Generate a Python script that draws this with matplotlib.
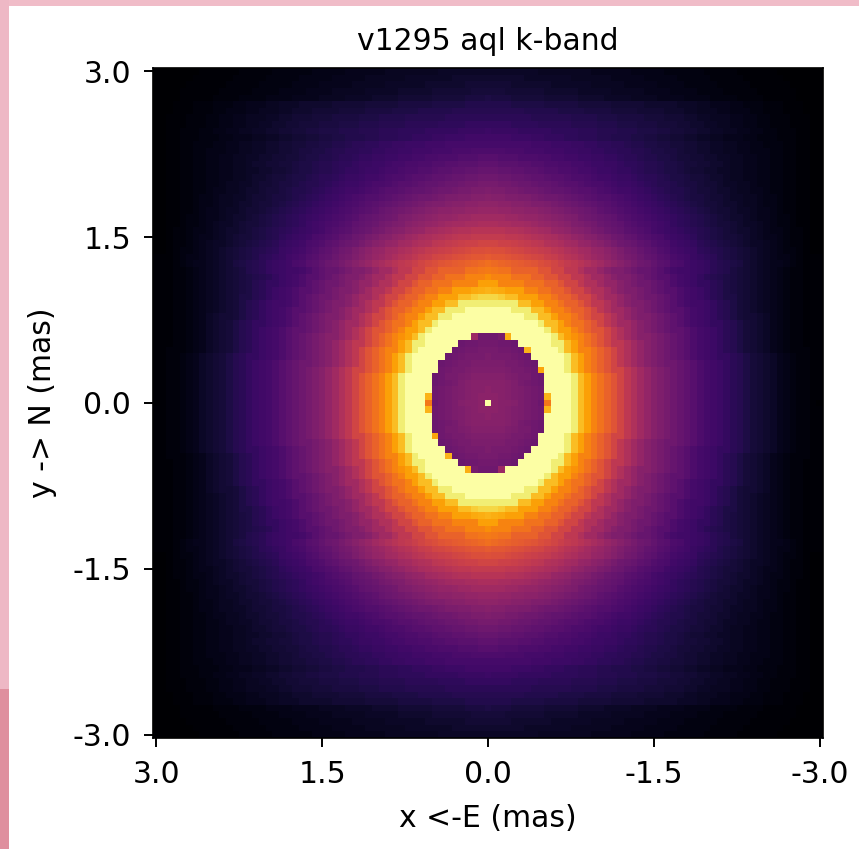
#!/usr/bin/env python

import matplotlib
matplotlib.use("Agg")
import matplotlib.pyplot as plt
from matplotlib.patches import Rectangle
import numpy as np

# upper left quarter of the map in percent of the colour range, read by eye
# rows go from the top edge to the centre row, columns from the left edge to the centre column
quarter = [
    [0,0,0,0,0,0,0,1,1,1,1,1,1,2,2,2,2,2,3,3,3,3,3,3,4,4,4,4,4,5,5,5,5,5,5,6,6,6,6,6,6,6,6,7,7,7,7,7,7,7,7],
    [0,0,0,0,0,0,1,1,1,1,1,1,2,2,2,2,2,3,3,3,3,3,4,4,4,4,4,5,5,5,5,5,6,6,6,6,6,6,7,7,7,7,7,7,7,8,8,8,8,8,8],
    [0,0,0,0,0,1,1,1,1,1,1,2,2,2,2,2,3,3,3,3,3,4,4,4,4,5,5,5,5,5,6,6,6,6,6,7,7,7,7,7,7,8,8,8,8,8,8,9,9,9,9],
    [0,0,0,0,1,1,1,1,1,1,2,2,2,2,2,3,3,3,3,4,4,4,4,5,5,5,5,6,6,6,6,6,7,7,7,7,7,8,8,8,8,8,9,9,9,9,9,9,10,10,10],
    [0,0,0,0,1,1,1,1,1,2,2,2,2,3,3,3,3,4,4,4,4,5,5,5,5,6,6,6,6,7,7,7,7,8,8,8,8,9,9,9,9,9,10,10,10,10,10,11,11,11,12],
    [0,0,0,1,1,1,2,2,2,3,3,3,4,4,5,5,5,6,6,7,7,7,8,8,8,8,8,9,9,9,9,9,10,10,10,10,10,11,11,11,11,11,12,12,12,12,12,13,13,13,13],
    [0,0,0,1,1,1,2,2,2,3,3,4,4,4,5,5,6,6,6,7,7,8,8,8,9,9,9,9,10,10,10,10,11,11,11,11,12,12,12,12,13,13,13,13,13,14,14,14,14,14,14],
    [0,0,1,1,1,2,2,2,3,3,4,4,5,5,6,6,6,7,7,8,8,9,9,9,10,10,10,11,11,11,11,12,12,12,13,13,13,13,14,14,14,14,14,14,15,15,15,15,15,15,15],
    [0,0,1,1,1,2,2,2,3,3,4,4,5,5,6,6,7,7,8,8,9,9,10,10,10,11,11,11,12,12,12,13,13,13,14,14,14,14,15,15,15,15,15,16,16,16,16,17,17,17,17],
    [0,0,1,1,2,2,2,3,3,4,4,5,5,6,6,7,7,8,8,9,9,10,10,11,11,12,12,12,13,13,13,14,14,14,15,15,15,16,16,16,16,17,17,17,17,17,18,18,18,18,19],
    [0,0,1,1,2,2,2,3,3,3,4,4,5,5,5,6,6,7,7,8,8,9,9,10,10,11,11,12,12,13,13,13,14,14,15,15,15,16,16,17,17,17,18,18,19,19,19,20,20,20,20],
    [0,0,1,1,2,2,3,3,3,4,4,5,5,6,6,7,7,8,8,9,9,10,10,11,11,12,12,13,13,14,15,15,16,16,17,17,18,18,19,19,19,20,20,20,21,21,21,21,21,21,21],
    [0,0,1,1,2,2,3,3,4,4,4,5,5,6,6,7,7,8,8,9,9,10,11,11,12,12,13,14,14,15,15,16,16,17,17,18,18,19,19,20,20,20,21,21,21,22,22,22,23,23,23],
    [0,0,1,1,2,2,3,3,4,4,5,5,6,6,7,7,8,8,9,9,10,10,11,12,12,13,13,14,15,15,16,17,17,18,18,19,19,20,20,21,21,22,22,23,23,23,24,24,24,25,25],
    [0,0,1,1,2,2,3,3,4,4,5,5,6,6,7,8,8,9,9,10,10,11,12,12,13,14,14,15,16,16,17,18,18,19,19,20,21,21,22,22,23,23,24,24,25,25,26,26,26,27,27],
    [0,0,1,1,2,2,3,3,4,4,5,5,6,6,7,7,8,8,9,9,10,11,12,12,13,14,14,15,16,17,17,18,19,19,20,21,21,22,23,23,24,24,25,26,26,27,27,28,28,29,29],
    [0,0,1,1,2,2,3,3,4,4,5,5,6,6,7,8,8,9,10,10,11,12,12,13,14,15,15,16,17,18,18,19,20,20,21,22,23,23,24,25,25,26,27,27,28,29,29,30,30,31,31],
    [0,0,1,1,2,2,3,3,4,4,5,6,6,7,7,8,9,9,10,11,11,12,13,14,14,15,16,17,18,19,19,20,21,22,22,23,24,25,25,26,27,28,28,29,30,30,31,32,32,33,33],
    [0,0,1,1,2,2,3,3,4,5,5,6,6,7,8,8,9,10,10,11,12,13,13,14,15,16,17,18,19,20,20,21,22,23,24,25,25,26,27,28,28,29,30,31,31,32,33,33,34,34,35],
    [0,0,1,1,2,2,3,4,4,5,6,6,7,7,8,9,9,10,11,11,12,13,14,15,16,17,18,19,20,21,22,23,24,24,25,26,27,28,29,30,31,31,32,33,34,34,35,35,36,36,37],
    [0,0,1,1,2,2,3,4,4,5,6,6,7,8,8,9,10,10,11,12,13,14,15,16,17,18,19,20,21,22,23,24,25,26,27,28,29,30,31,32,33,34,35,35,36,37,37,38,38,39,39],
    [0,0,1,1,2,2,3,4,5,5,6,7,7,8,9,9,10,11,12,13,14,15,16,17,18,19,20,21,22,23,24,25,26,27,29,30,31,32,33,34,35,36,37,38,38,39,39,40,40,41,41],
    [0,0,1,1,2,3,3,4,5,5,6,7,8,8,9,10,11,12,13,14,15,16,17,18,19,20,21,22,23,24,25,27,28,29,30,31,32,34,35,36,37,38,39,40,40,41,42,42,43,43,43],
    [0,0,1,1,2,3,3,4,5,6,7,7,8,9,10,10,11,12,13,14,15,16,17,19,20,21,22,23,24,25,27,28,29,30,32,33,34,35,37,38,39,40,41,42,43,44,44,45,45,46,46],
    [0,0,1,2,2,3,4,4,5,6,7,8,8,9,10,11,12,13,14,15,16,17,18,19,20,21,23,24,25,26,28,29,30,32,33,35,36,37,39,40,41,43,44,45,46,47,48,48,49,49,49],
    [0,0,1,2,2,3,4,5,5,6,7,8,9,10,10,11,12,13,14,16,17,18,19,20,22,23,24,25,27,28,30,31,33,34,36,37,39,40,42,43,45,46,47,48,49,50,51,51,52,52,52],
    [0,0,1,2,2,3,4,5,6,7,7,8,9,10,11,12,13,14,15,17,18,19,20,22,23,24,26,27,29,30,31,33,35,37,38,40,41,43,44,46,47,48,50,51,52,53,54,55,55,56,56],
    [0,0,1,2,3,3,4,5,6,7,8,9,10,11,12,13,14,15,16,18,19,20,21,23,24,26,27,29,31,32,34,36,38,40,41,43,44,46,47,49,50,52,53,54,55,56,57,58,59,59,60],
    [1,1,1,2,3,4,4,5,6,7,8,9,10,11,12,13,15,16,17,18,20,21,22,24,25,27,28,30,32,33,35,37,39,41,42,44,46,48,49,51,53,54,56,57,58,59,60,61,62,62,63],
    [1,1,1,2,3,4,5,5,6,7,8,9,11,12,13,14,15,17,18,19,20,22,23,25,26,28,30,31,33,35,37,39,41,43,45,47,49,51,52,54,56,58,59,61,62,63,64,65,66,67,68],
    [1,1,1,2,2,3,4,5,6,7,8,9,10,11,13,14,15,17,18,19,20,20,21,23,25,27,29,29,31,33,35,35,37,40,43,43,47,51,51,56,56,61,61,65,65,65,65,69,69,70,71],
    [1,1,1,2,2,3,4,5,6,7,8,9,10,11,12,13,14,15,17,19,20,21,23,25,25,27,29,31,33,35,35,37,40,43,43,47,51,51,56,56,61,61,65,65,69,69,69,73,73,73,75],
    [1,1,1,2,2,3,4,5,6,7,8,9,10,11,12,14,15,17,17,19,20,21,23,25,27,29,31,31,33,35,37,40,40,43,47,47,51,56,56,61,65,65,69,69,69,73,73,73,73,79,79],
    [1,1,1,2,2,3,4,5,6,7,8,9,10,11,12,14,15,17,19,20,21,23,25,25,27,29,31,33,35,35,37,40,43,47,47,51,56,56,61,65,65,69,69,73,73,79,79,79,81,82,83],
    [1,1,1,2,2,3,4,5,6,7,8,9,10,12,12,14,15,17,19,20,21,23,25,27,29,31,31,33,35,37,40,43,43,47,51,56,56,61,65,65,69,73,73,79,79,79,85,85,88,90,90],
    [1,1,1,2,2,3,4,5,6,7,8,9,10,12,14,15,17,19,20,20,21,23,25,27,29,31,33,35,35,37,40,43,47,51,51,56,61,65,65,69,73,73,79,79,85,85,95,95,95,95,95],
    [1,1,1,2,2,3,4,5,6,7,8,9,10,12,14,15,17,19,20,21,23,25,25,27,29,31,33,35,37,40,43,43,47,51,56,61,65,65,69,73,73,79,85,85,95,95,95,100,100,100,100],
    [1,1,1,2,2,3,4,5,7,8,9,9,10,12,14,15,17,19,20,21,23,25,27,29,31,33,35,35,37,40,43,47,51,56,56,61,65,69,73,73,79,85,85,95,95,100,100,100,100,100,100],
    [1,1,1,2,2,3,4,5,7,8,9,10,12,14,15,17,17,19,20,21,23,25,27,29,31,33,35,37,40,43,43,47,51,56,61,65,69,69,73,79,85,85,95,100,100,100,100,100,100,100,100],
    [1,1,1,2,2,3,4,5,7,8,9,10,12,14,15,17,19,20,21,23,25,27,27,29,31,33,35,37,40,43,47,51,56,61,61,65,69,73,79,79,85,95,100,100,100,100,100,100,100,100,100],
    [1,1,1,2,2,3,4,5,7,8,9,10,12,14,15,17,19,20,21,23,25,27,29,31,33,35,37,37,40,43,47,51,56,61,65,69,73,76,79,85,95,100,100,100,100,100,100,100,40,31,31],
    [1,1,1,2,2,3,4,5,7,8,9,10,12,14,15,17,19,20,21,23,25,27,29,31,33,35,37,40,43,47,51,51,56,61,65,69,73,79,85,95,95,100,100,100,100,100,30,31,31,32,32],
    [1,1,2,2,2,3,4,5,7,8,9,10,12,14,15,17,19,20,21,23,25,27,29,31,33,35,37,40,43,47,51,56,61,65,69,73,73,79,85,95,100,100,100,100,100,30,31,32,32,33,33],
    [1,1,2,2,3,4,5,7,8,9,10,12,14,15,17,17,19,20,21,23,25,27,29,31,33,35,37,40,43,47,51,56,61,65,69,73,79,85,95,100,100,100,100,100,30,31,32,33,33,33,34],
    [1,1,2,2,3,4,5,7,8,9,10,12,14,15,17,19,20,21,23,25,27,29,31,31,33,35,37,40,43,47,51,56,61,65,69,73,79,85,95,100,100,100,100,30,31,32,33,33,34,34,34],
    [1,1,2,2,3,4,5,7,8,9,10,12,14,15,17,19,20,21,23,25,27,29,31,33,35,37,40,43,47,51,56,56,61,65,69,73,79,85,95,100,100,100,100,31,32,33,33,34,35,35,35],
    [1,1,2,2,3,4,5,7,8,9,10,12,14,15,17,19,20,21,23,25,27,29,31,33,35,37,40,43,47,51,56,61,65,69,73,79,85,95,100,100,100,100,30,31,33,33,34,35,36,36,36],
    [1,1,2,2,3,4,5,7,8,9,10,12,14,15,17,19,20,21,23,25,27,29,31,33,35,37,40,43,47,51,56,61,65,69,73,79,85,95,100,100,100,100,30,31,32,33,35,36,37,37,37],
    [1,1,2,2,3,4,5,7,8,9,10,12,14,15,17,19,20,21,23,25,27,29,31,33,35,37,40,43,47,51,56,61,65,69,73,79,85,95,100,100,100,100,31,32,33,34,35,36,37,37,38],
    [1,1,2,2,3,4,5,7,8,9,10,12,14,15,17,19,20,21,23,25,27,29,31,33,35,37,40,43,47,51,56,61,65,69,73,79,85,95,100,100,100,83,31,32,33,34,35,36,37,38,38],
    [0,1,2,2,3,4,5,7,8,9,10,12,14,15,17,19,20,21,23,25,27,29,31,33,35,37,40,43,47,51,56,61,65,69,73,79,85,95,100,100,100,70,30,32,33,34,36,37,37,38,100],
]

# cells on the edge of the dark core that break the left/right mirror
odd_col = [3, -3, 2, -2, 2, -2, 6, -6, 8, -8]
odd_row = [10, -10, 10, -10, -10, 10, 8, -8, 5, -5]
odd_val = [82, 82, 33, 33, 42, 42, 83, 83, 80, 80]

ticks = [3.0, 1.5, 0.0, -1.5, -3.0]
tick_labels = ["3.0", "1.5", "0.0", "-1.5", "-3.0"]


def main():
    top = np.array(quarter)
    top = np.hstack([top, top[:, -2::-1]])
    grid = np.vstack([top, top[-2::-1]])
    mid = len(grid) // 2
    for c, r, v in zip(odd_col, odd_row, odd_val):
        grid[mid - r, mid + c] = v

    W, H = 859, 849
    fig = plt.figure(figsize=(W / 100, H / 100), dpi=100)

    # pink paper showing behind the white page
    fig.add_artist(Rectangle((0, 1 - 6 / H), 1, 6 / H, transform=fig.transFigure, color="#f0bcc8", lw=0))
    fig.add_artist(Rectangle((0, 160 / H), 9 / W, 1 - 160 / H, transform=fig.transFigure, color="#eeb8c5", lw=0))
    fig.add_artist(Rectangle((0, 0), 9 / W, 160 / H, transform=fig.transFigure, color="#df8f9e", lw=0))

    ax = fig.add_axes([153 / W, 1 - 738 / H, 670 / W, 670 / H])
    half = 0.06 * 101 / 2
    ax.imshow(grid, cmap="inferno", vmin=0, vmax=100, interpolation="nearest",
              extent=(half, -half, -half, half))
    ax.set_xticks(ticks)
    ax.set_xticklabels(tick_labels)
    ax.set_yticks(ticks)
    ax.set_yticklabels(tick_labels)
    ax.tick_params(labelsize=21.5, length=6.8, width=1.4, pad=9)
    for s in ax.spines.values():
        s.set_linewidth(1.2)
    ax.set_xlabel("x <-E (mas)", fontsize=21.5, labelpad=11)
    ax.set_ylabel("y -> N (mas)", fontsize=21.5, labelpad=11)
    ax.set_title("v1295 aql k-band", fontsize=21.5, pad=13)

    plt.savefig("out.png", dpi=100)


if __name__ == "__main__":
    main()
